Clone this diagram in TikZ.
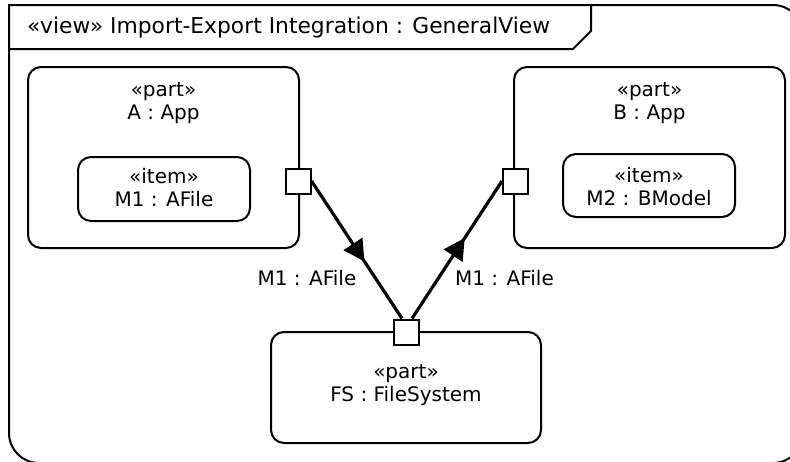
\documentclass[tikz,border=0pt]{standalone}
\usepackage{fontspec}
\setmainfont{DejaVu Sans}
\usetikzlibrary{arrows.meta,decorations.markings,calc}
\tikzset{
  box/.style={draw, line width=2pt, rounded corners=13pt, inner sep=0pt},
  port/.style={draw, line width=2pt, fill=white, minimum width=25pt, minimum height=25pt, inner sep=0pt},
  txt/.style={align=center, inner sep=0pt, font=\fontsize{20}{23}\selectfont},
  flow/.style={line width=3.2pt, postaction={decorate},
    decoration={markings, mark=at position 0.585 with {\arrow{Triangle[length=21pt,width=22pt]}}}},
}
\begin{document}
\begin{tikzpicture}[x=1pt,y=-1pt]
\useasboundingbox (0,0) rectangle (790,461);
\clip (0,0) rectangle (790,461);
% frame
\draw[line width=2pt, rounded corners=30pt, line cap=rect] (9,5) -- (803,5) -- (803,463) -- (9,463) -- (9,5);
\draw[line width=2pt] (9,49) -- (573,49) -- (591,31) -- (591,5);
\node[anchor=west, inner sep=0pt, font=\fontsize{21.8}{26}\selectfont] (title) at (27,27) {«view» Import-Export Integration : GeneralView};
% part A
\node[box, minimum width=271pt, minimum height=181pt] (A) at (163.5,157.5) {};
\node[txt] (Alab) at (163.5,103.5) {«part»\\A : App};
\node[box, minimum width=172pt, minimum height=64pt] (M1) at (164,189) {};
\node[txt] (M1lab) at (164,188) {«item»\\M1 : AFile};
% part B
\node[box, minimum width=271pt, minimum height=181pt] (B) at (649.5,157.5) {};
\node[txt] (Blab) at (649.5,103.5) {«part»\\B : App};
\node[box, minimum width=172pt, minimum height=63pt] (M2) at (649,185.5) {};
\node[txt] (M2lab) at (649,187) {«item»\\M2 : BModel};
% part FS
\node[box, minimum width=270pt, minimum height=111pt] (FS) at (406,387.5) {};
\node[txt] (FSlab) at (406,385.5) {«part»\\FS : FileSystem};
% ports
\node[port] (pA) at (298,181) {};
\node[port] (pB) at (515.5,181) {};
\node[port] (pFS) at (406.5,332) {};
% connectors
\draw[flow] (pA.east) -- ($(pFS.north)+(-4.5,0)$);
\draw[flow] ($(pFS.north)+(5.5,0)$) -- (pB.west);
\node[txt] (l1) at (307,278) {M1 : AFile};
\node[txt] (l2) at (504.5,278) {M1 : AFile};
\end{tikzpicture}
\end{document}
